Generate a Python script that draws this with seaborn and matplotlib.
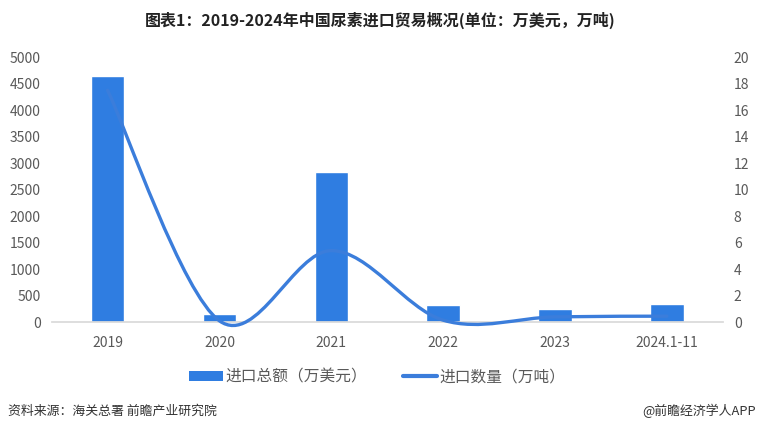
import numpy as np
import pandas as pd
import matplotlib.pyplot as plt
from matplotlib.path import Path
from matplotlib.patches import PathPatch, Patch
from matplotlib.lines import Line2D
import seaborn as sns

# --- data ---
years = ['2019', '2020', '2021', '2022', '2023', '2024.1-11']
import_value = [4640, 150, 2830, 320, 245, 335]      # 万美元
import_volume = [17.5, 0.1, 5.4, 0.15, 0.4, 0.45]    # 万吨

BAR_COLOR = '#2F7DE1'
LINE_COLOR = '#3B7DDB'
TICK_COLOR = '#595959'

sns.set_theme(style='white')
plt.rcParams['font.family'] = ['Noto Sans CJK SC', 'DejaVu Sans']

df = pd.DataFrame({'year': years, 'value': import_value, 'volume': import_volume})

fig = plt.figure(figsize=(7.6, 4.33), dpi=100)
ax = fig.add_axes([0.068, 0.256, 0.883, 0.612])

sns.barplot(data=df, x='year', y='value', color=BAR_COLOR, width=0.3,
            saturation=1, ax=ax)
ax.set_ylim(0, 5000)
ax.set_yticks(np.arange(0, 5001, 500))
ax.set_xlim(-0.5, len(years) - 0.5)
ax.set_xlabel('')
ax.set_ylabel('')

ax2 = ax.twinx()
ax2.set_ylim(0, 20)
ax2.set_yticks(np.arange(0, 21, 2))

# smoothed line (Catmull-Rom style bezier through the data points)
pts = np.column_stack([np.arange(len(years)), df['volume'].to_numpy()])
verts = [pts[0]]
codes = [Path.MOVETO]
n = len(pts)
for i in range(n - 1):
    p_prev = pts[max(i - 1, 0)]
    p0, p1 = pts[i], pts[i + 1]
    p_next = pts[min(i + 2, n - 1)]
    c1 = p0 + (p1 - p_prev) / 6
    c2 = p1 - (p_next - p0) / 6
    verts += [c1, c2, p1]
    codes += [Path.CURVE4] * 3
ax2.add_patch(PathPatch(Path(verts, codes), facecolor='none',
                        edgecolor=LINE_COLOR, lw=2.4, clip_on=False,
                        capstyle='round'))

for a in (ax, ax2):
    for s in a.spines.values():
        s.set_visible(False)
    a.tick_params(length=0, labelsize=10, colors=TICK_COLOR)
ax.spines['bottom'].set_visible(True)
ax.spines['bottom'].set_color('#d9d9d9')
ax.tick_params(axis='x', pad=10)
ax.tick_params(axis='y', pad=8)
ax2.tick_params(axis='y', pad=8)

fig.text(0.5, 0.953, '图表1：2019-2024年中国尿素进口贸易概况(单位：万美元，万吨)',
         ha='center', va='center', fontsize=11.5, fontweight='bold', color='#222222')

handles = [Patch(facecolor=BAR_COLOR, edgecolor='none'),
           Line2D([0], [0], color=LINE_COLOR, lw=3)]
fig.legend(handles, ['进口总额（万美元）', '进口数量（万吨）'], loc='center',
           bbox_to_anchor=(0.496, 0.129), ncol=2, frameon=False,
           fontsize=11.3, handlelength=2.2, handleheight=0.6, handletextpad=0.1,
           columnspacing=2.3, labelcolor=TICK_COLOR)

fig.text(0.011, 0.05, '资料来源：海关总署 前瞻产业研究院', ha='left', va='center',
         fontsize=9.3, color='#333333')
fig.text(0.995, 0.05, '@前瞻经济学人APP', ha='right', va='center',
         fontsize=9.3, color='#333333')

fig.savefig('out.png', dpi=100, facecolor='white')
